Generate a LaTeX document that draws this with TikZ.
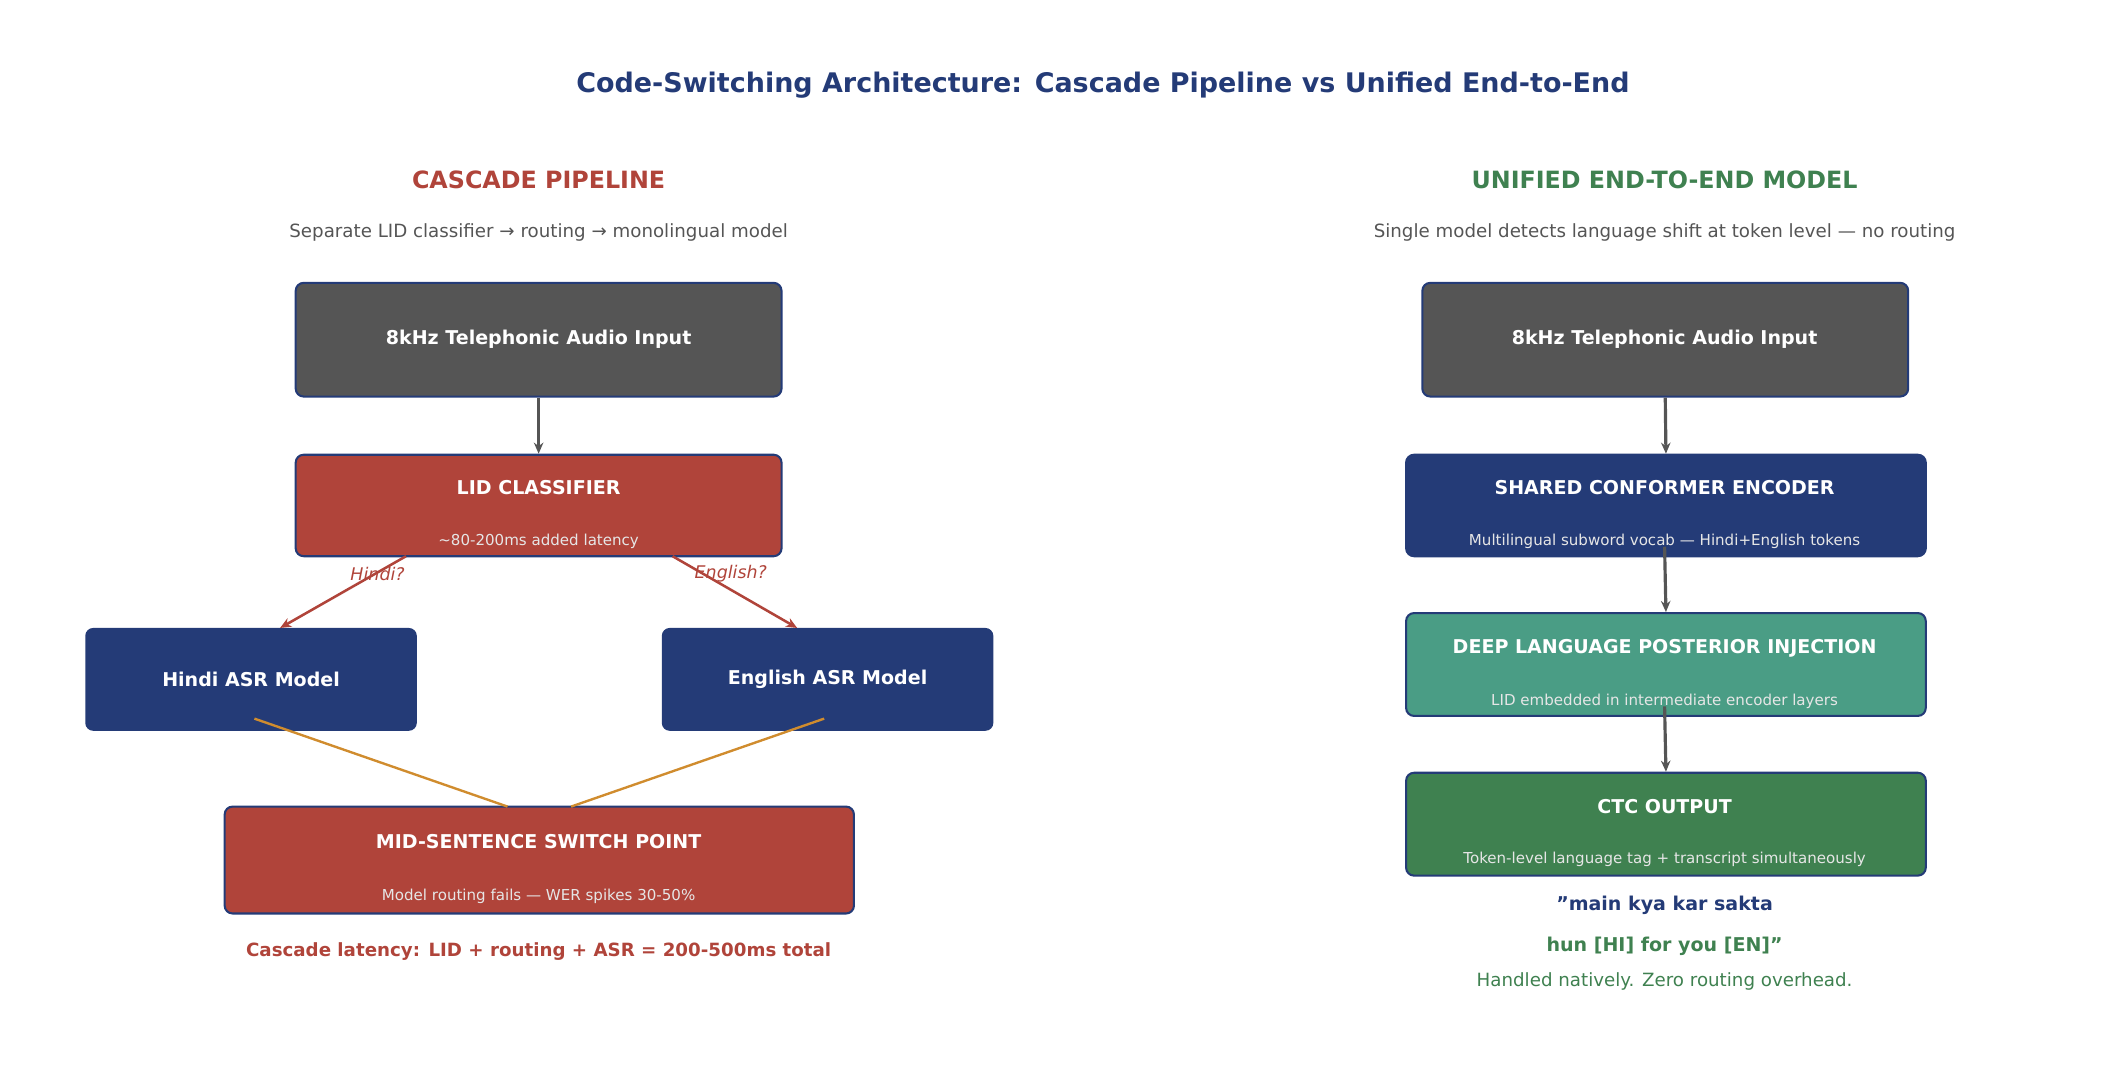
\documentclass[tikz,border=0pt]{standalone}
\usepackage{fontspec}
\setmainfont{DejaVu Sans}
\usetikzlibrary{arrows.meta}
\definecolor{navy}{HTML}{243B77}
\definecolor{cred}{HTML}{B0443A}
\definecolor{dgray}{HTML}{555555}
\definecolor{teal2}{HTML}{4A9D85}
\definecolor{cgreen}{HTML}{3F8150}
\definecolor{corange}{HTML}{D08C2E}
\definecolor{subt}{HTML}{E6E6E6}
\begin{document}
\begin{tikzpicture}[x=0.03cm,y=-0.03cm,
 box/.style={draw=navy,line width=1.3pt,rounded corners=5pt,inner sep=0pt},
 ttl/.style={text=white,font=\bfseries\fontsize{12}{14}\selectfont},
 sub/.style={text=subt,font=\fontsize{9.5}{11}\selectfont},
 arr/.style={draw=dgray,line width=2pt,-{Stealth[length=7pt,width=6pt]}},
 rarr/.style={draw=cred,line width=1.6pt,-{Stealth[length=7pt,width=6pt]}},
 oline/.style={draw=corange,line width=1.5pt}]
\useasboundingbox (0,0) rectangle (1568,803);
\node (title) at (815,63) {\textcolor{navy}{\bfseries\fontsize{17}{20}\selectfont Code-Switching Architecture: Cascade Pipeline vs Unified End-to-End}};
\node (hl) at (398,133) {\textcolor{cred}{\bfseries\fontsize{15}{18}\selectfont CASCADE PIPELINE}};
\node (sl) at (398,172) {\textcolor{dgray}{\fontsize{11.5}{14}\selectfont Separate LID classifier → routing → monolingual model}};
\node (hr) at (1230,133) {\textcolor{cgreen}{\bfseries\fontsize{15}{18}\selectfont UNIFIED END-TO-END MODEL}};
\node (sr) at (1230,172) {\textcolor{dgray}{\fontsize{11.5}{14}\selectfont Single model detects language shift at token level — no routing}};
% left
\node[box,fill=dgray,minimum width=359*0.03cm,minimum height=84*0.03cm] (audL) at (398,251) {};
\node[ttl] (audLt) at (398,251) {8kHz Telephonic Audio Input};
\node[box,fill=cred,minimum width=359*0.03cm,minimum height=75*0.03cm] (lid) at (398,373.5) {};
\node[ttl] (lidt) at (398,360) {LID CLASSIFIER};
\node[sub] (lids) at (398,400) {\textasciitilde80-200ms added latency};
\node[box,draw=none,fill=navy,minimum width=245*0.03cm,minimum height=76*0.03cm] (hin) at (185.5,502) {};
\node[ttl] (hint) at (185.5,502) {Hindi ASR Model};
\node[box,draw=none,fill=navy,minimum width=245*0.03cm,minimum height=76*0.03cm] (eng) at (611.5,502) {};
\node[ttl] (engt) at (611.5,502) {English ASR Model};
\node[box,fill=cred,minimum width=465*0.03cm,minimum height=79*0.03cm] (mid) at (398.5,635.5) {};
\node[ttl] (midt) at (398,622) {MID-SENTENCE SWITCH POINT};
\node[sub] (mids) at (398,662) {Model routing fails — WER spikes 30-50\%};
\node (lat) at (398,703) {\textcolor{cred}{\bfseries\fontsize{11.5}{14}\selectfont Cascade latency: LID + routing + ASR = 200-500ms total}};
\coordinate (lh) at (300,411); \coordinate (le) at (497,411);
\coordinate (hb) at (188,531); \coordinate (eb) at (609,531);
\coordinate (mh) at (375,596); \coordinate (me) at (422,596);
\draw[arr] (audL.south) -- (lid.north);
\draw[rarr] (lh) -- (207,464) coordinate (hi);
\draw[rarr] (le) -- (589,464) coordinate (ei);
\node (hq) at (279,424) {\textcolor{cred}{\itshape\fontsize{11}{13}\selectfont Hindi?}};
\node (eq) at (540,424) {\textcolor{cred}{\itshape\fontsize{11}{13}\selectfont English?}};
\draw[oline] (hb) -- (mh);
\draw[oline] (eb) -- (me);
% right
\node[box,fill=dgray,minimum width=359*0.03cm,minimum height=84*0.03cm] (audR) at (1230.5,251) {};
\node[ttl] (audRt) at (1230,251) {8kHz Telephonic Audio Input};
\node[box,fill=navy,minimum width=384*0.03cm,minimum height=75*0.03cm] (enc) at (1231,373.5) {};
\node[ttl] (enct) at (1230,360) {SHARED CONFORMER ENCODER};
\node[sub] (encs) at (1230,400) {Multilingual subword vocab — Hindi+English tokens};
\node[box,fill=teal2,minimum width=384*0.03cm,minimum height=76*0.03cm] (deep) at (1231,491) {};
\node[ttl] (deept) at (1230,479) {DEEP LANGUAGE POSTERIOR INJECTION};
\node[sub] (deeps) at (1230,518) {LID embedded in intermediate encoder layers};
\node[box,fill=cgreen,minimum width=384*0.03cm,minimum height=76*0.03cm] (ctc) at (1231,609) {};
\node[ttl] (ctct) at (1230,596) {CTC OUTPUT};
\node[sub] (ctcs) at (1230,635) {Token-level language tag + transcript simultaneously};
\node (q1) at (1230,669) {\textcolor{navy}{\bfseries\fontsize{12}{14}\selectfont "main kya kar sakta}};
\node (q2) at (1230,699) {\textcolor{cgreen}{\bfseries\fontsize{12}{14}\selectfont hun [HI] for you [EN]"}};
\node (q3) at (1230,725) {\textcolor{cgreen}{\fontsize{11.5}{14}\selectfont Handled natively. Zero routing overhead.}};
\coordinate (e1) at (1230,404); \coordinate (e2) at (1230,522);
\draw[arr] (audR.south) -- (enc.north);
\draw[arr] (e1) -- (deep.north);
\draw[arr] (e2) -- (ctc.north);
\end{tikzpicture}
\end{document}
